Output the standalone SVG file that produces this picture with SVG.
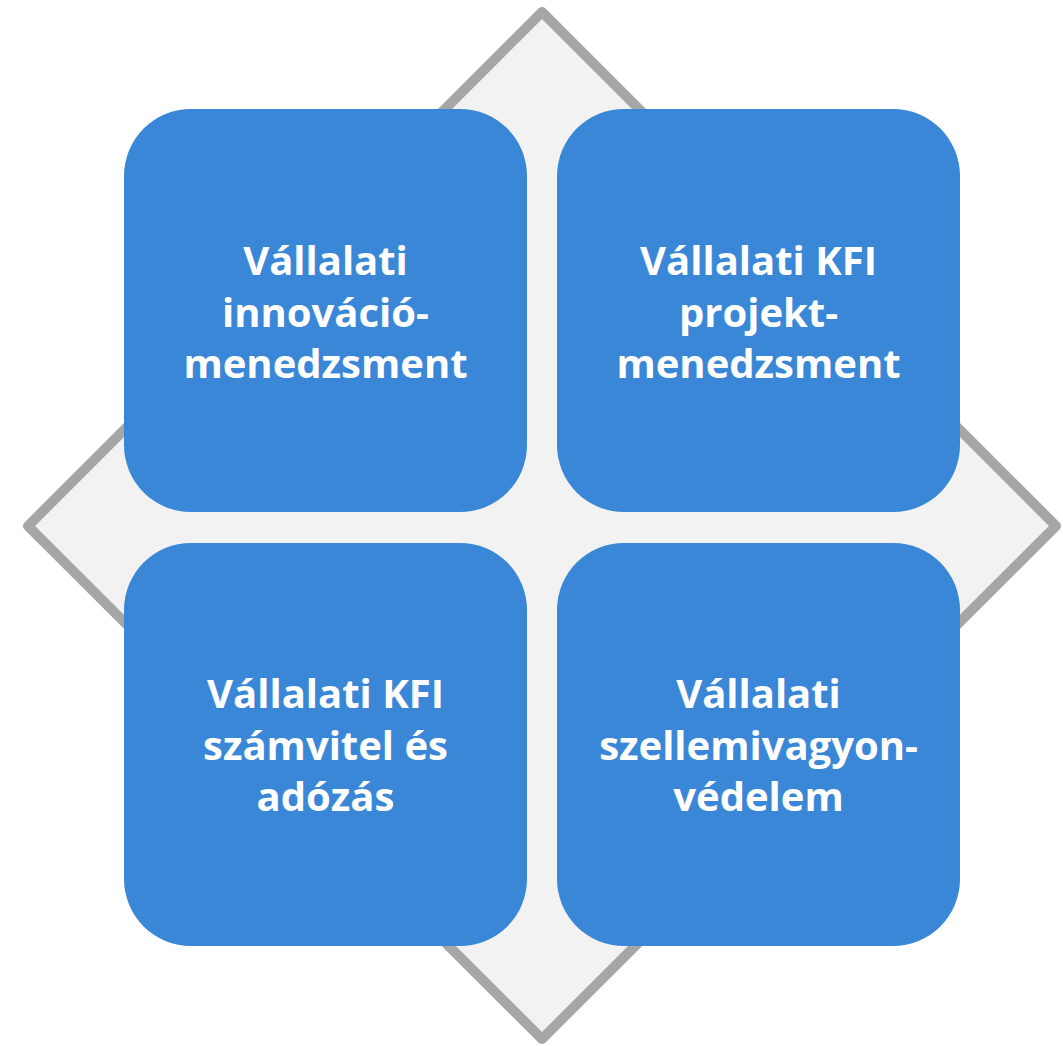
<svg xmlns="http://www.w3.org/2000/svg" width="1063" height="1046" viewBox="0 0 1063 1046">
<style>
.box{fill:#3b87d7;}
.lbl{font-family:"Open Sans","Liberation Sans",sans-serif;font-weight:700;font-size:40px;fill:#ffffff;text-anchor:middle;}
</style>
<rect width="1063" height="1046" fill="#ffffff"/>
<g id="diamond">
<polygon points="542,12 1056,526 542,1039 28,526" fill="#f2f2f2" stroke="#a6a6a6" stroke-width="10" stroke-linejoin="round"/>
</g>
<g id="connectors"></g>
<g id="node-tl">
<rect class="box" x="124" y="109" width="403" height="403" rx="67" ry="67"/>
<text class="lbl" x="325.5" y="275">Vállalati</text>
<text class="lbl" x="325.5" y="327">innováció-</text>
<text class="lbl" x="325.5" y="378">menedzsment</text>
</g>
<g id="node-tr">
<rect class="box" x="557" y="109" width="403" height="403" rx="67" ry="67"/>
<text class="lbl" x="758.5" y="275">Vállalati KFI</text>
<text class="lbl" x="758.5" y="327">projekt-</text>
<text class="lbl" x="758.5" y="378">menedzsment</text>
</g>
<g id="node-bl">
<rect class="box" x="124" y="543" width="403" height="403" rx="67" ry="67"/>
<text class="lbl" x="325.5" y="708">Vállalati KFI</text>
<text class="lbl" x="325.5" y="760">számvitel és</text>
<text class="lbl" x="325.5" y="811">adózás</text>
</g>
<g id="node-br">
<rect class="box" x="557" y="543" width="403" height="403" rx="67" ry="67"/>
<text class="lbl" x="758.5" y="708">Vállalati</text>
<text class="lbl" x="758.5" y="760">szellemivagyon-</text>
<text class="lbl" x="758.5" y="811">védelem</text>
</g>
</svg>
